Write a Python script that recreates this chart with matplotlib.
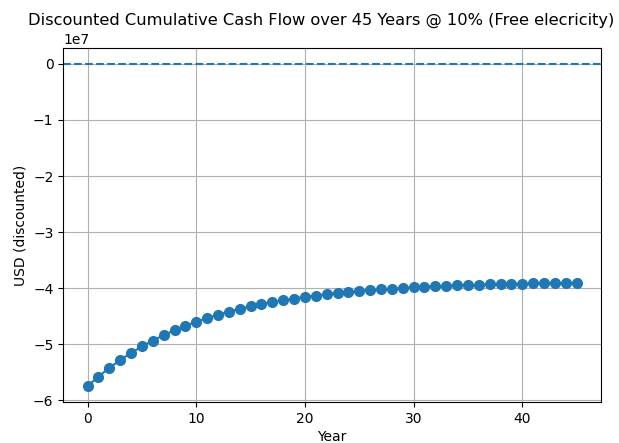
import matplotlib
matplotlib.use("Agg")
import matplotlib.pyplot as plt

# discounted cumulative cash flow per year, in units of 1e7 USD
years = list(range(46))
cum_cf = [
    -5.750, -5.580, -5.425, -5.285, -5.157, -5.041, -4.936, -4.840, -4.752, -4.673,
    -4.601, -4.535, -4.476, -4.422, -4.372, -4.328, -4.287, -4.250, -4.216, -4.186,
    -4.158, -4.133, -4.110, -4.089, -4.070, -4.053, -4.037, -4.023, -4.010, -3.998,
    -3.987, -3.977, -3.969, -3.960, -3.953, -3.947, -3.940, -3.935, -3.930, -3.925,
    -3.921, -3.918, -3.914, -3.911, -3.908, -3.906,
]
cum_cf_usd = [v * 1e7 for v in cum_cf]

fig, ax = plt.subplots(figsize=(6.19, 4.43), dpi=100)
fig.subplots_adjust(left=0.102, right=0.971, top=0.892, bottom=0.092)

ax.plot(years, cum_cf_usd, marker="o", markersize=7)
ax.axhline(0, linestyle="--")
# title is a bit wider than the axes, nudge it left so it stays on the canvas
ax.set_title("Discounted Cumulative Cash Flow over 45 Years @ 10% (Free elecricity)",
             fontsize=11.7, x=0.48)
ax.set_xlabel("Year", labelpad=3)
ax.set_ylabel("USD (discounted)")
ax.grid(True)

fig.savefig("out.png", dpi=100)
